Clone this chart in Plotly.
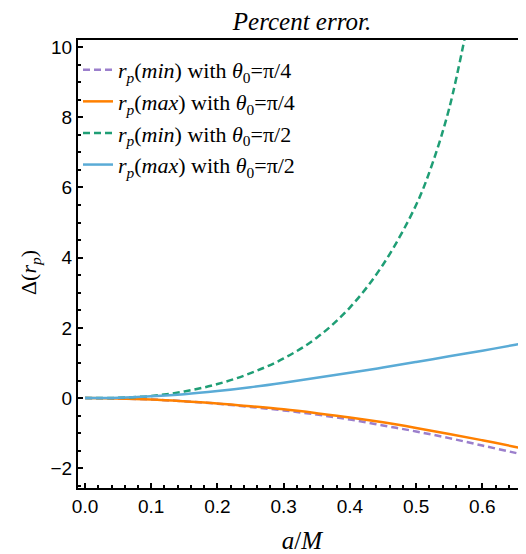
import plotly.graph_objects as go

# a/M sample points
a_vals = [0, 0.05, 0.1, 0.15, 0.2, 0.25, 0.3, 0.35, 0.4, 0.45, 0.5, 0.55, 0.6, 0.65, 0.666]
rmin_pi4 = [0, -0.01, -0.04, -0.09, -0.16, -0.25, -0.35, -0.47, -0.61, -0.78, -0.95, -1.14, -1.35, -1.56, -1.63]
rmax_pi4 = [0, -0.01, -0.04, -0.09, -0.15, -0.23, -0.32, -0.43, -0.55, -0.69, -0.85, -1.02, -1.2, -1.39, -1.45]
rmax_pi2 = [0, 0.01, 0.05, 0.11, 0.2, 0.31, 0.44, 0.58, 0.72, 0.87, 1.03, 1.19, 1.35, 1.52, 1.57]

# the pi/2 minimum curve leaves the frame near a/M = 0.57
a_green = [0, 0.05, 0.1, 0.15, 0.2, 0.25, 0.3, 0.35, 0.4, 0.45, 0.5, 0.525, 0.55, 0.575]
rmin_pi2 = [0, 0.01, 0.06, 0.19, 0.4, 0.71, 1.13, 1.72, 2.58, 3.8, 5.5, 6.7, 8.25, 10.4]

names = [
    "<i>r</i><sub><i>p</i></sub>(<i>min</i>) with <i>θ</i><sub>0</sub>=π/4",
    "<i>r</i><sub><i>p</i></sub>(<i>max</i>) with <i>θ</i><sub>0</sub>=π/4",
    "<i>r</i><sub><i>p</i></sub>(<i>min</i>) with <i>θ</i><sub>0</sub>=π/2",
    "<i>r</i><sub><i>p</i></sub>(<i>max</i>) with <i>θ</i><sub>0</sub>=π/2",
]

fig = go.Figure()
fig.add_trace(go.Scatter(x=a_vals, y=rmin_pi4, mode="lines", name=names[0], line_shape="spline",
                         line=dict(color="#9b7fcc", width=2.5, dash="7px,4px")))
fig.add_trace(go.Scatter(x=a_vals, y=rmax_pi4, mode="lines", name=names[1], line_shape="spline",
                         line=dict(color="#ff8000", width=2.5)))
fig.add_trace(go.Scatter(x=a_green, y=rmin_pi2, mode="lines", name=names[2], line_shape="spline",
                         line=dict(color="#1f9e75", width=2.5, dash="7px,4px")))
fig.add_trace(go.Scatter(x=a_vals, y=rmax_pi2, mode="lines", name=names[3], line_shape="spline",
                         line=dict(color="#5aabd6", width=2.5)))

axis_font = dict(family="Liberation Sans", size=19, color="black")

# page body adds an 8px margin, so the figure is 8px smaller than the window
fig.update_layout(
    width=518, height=546,
    margin=dict(l=70, r=0, t=32, b=66),
    plot_bgcolor="white", paper_bgcolor="white",
    title=dict(text="<i>Percent error.</i>", x=0.5, xref="paper", y=0.975, yref="container",
               xanchor="center", yanchor="middle",
               font=dict(family="Liberation Serif", size=25, color="black")),
    legend=dict(x=0.0, y=0.98, xanchor="left", yanchor="top", bgcolor="rgba(0,0,0,0)",
                font=dict(family="Liberation Serif", size=22, color="black"),
                itemwidth=30, tracegroupgap=0),
    showlegend=True,
    annotations=[dict(text="Δ(<i>r</i><sub><i>p</i></sub>)", textangle=-90,
                      xref="paper", yref="paper", x=-0.107, y=0.48,
                      xanchor="center", yanchor="middle", showarrow=False,
                      font=dict(family="Liberation Serif", size=22, color="black"))],
)

fig.update_xaxes(
    range=[-0.0106, 0.666], showgrid=False, zeroline=False,
    showline=True, linecolor="black", linewidth=2, mirror=True,
    ticks="inside", ticklen=5, tickwidth=1.5, tickcolor="black",
    tick0=0, dtick=0.1, tickformat=".1f", tickfont=axis_font,
    minor=dict(ticks="inside", ticklen=3, tickwidth=1.5, tickcolor="black", dtick=0.02, tick0=0),
    title=dict(text="<i>a</i>/<i>M</i>", standoff=21,
               font=dict(family="Liberation Serif", size=25, color="black")),
)
fig.update_yaxes(
    range=[-2.56, 10.2], showgrid=False, zeroline=False,
    showline=True, linecolor="black", linewidth=2, mirror=False,
    ticks="inside", ticklen=5, tickwidth=1.5, tickcolor="black",
    tick0=0, dtick=2, tickfont=axis_font,
    minor=dict(ticks="inside", ticklen=3, tickwidth=1.5, tickcolor="black", dtick=0.5, tick0=0),
)

fig.write_html("out.html")
